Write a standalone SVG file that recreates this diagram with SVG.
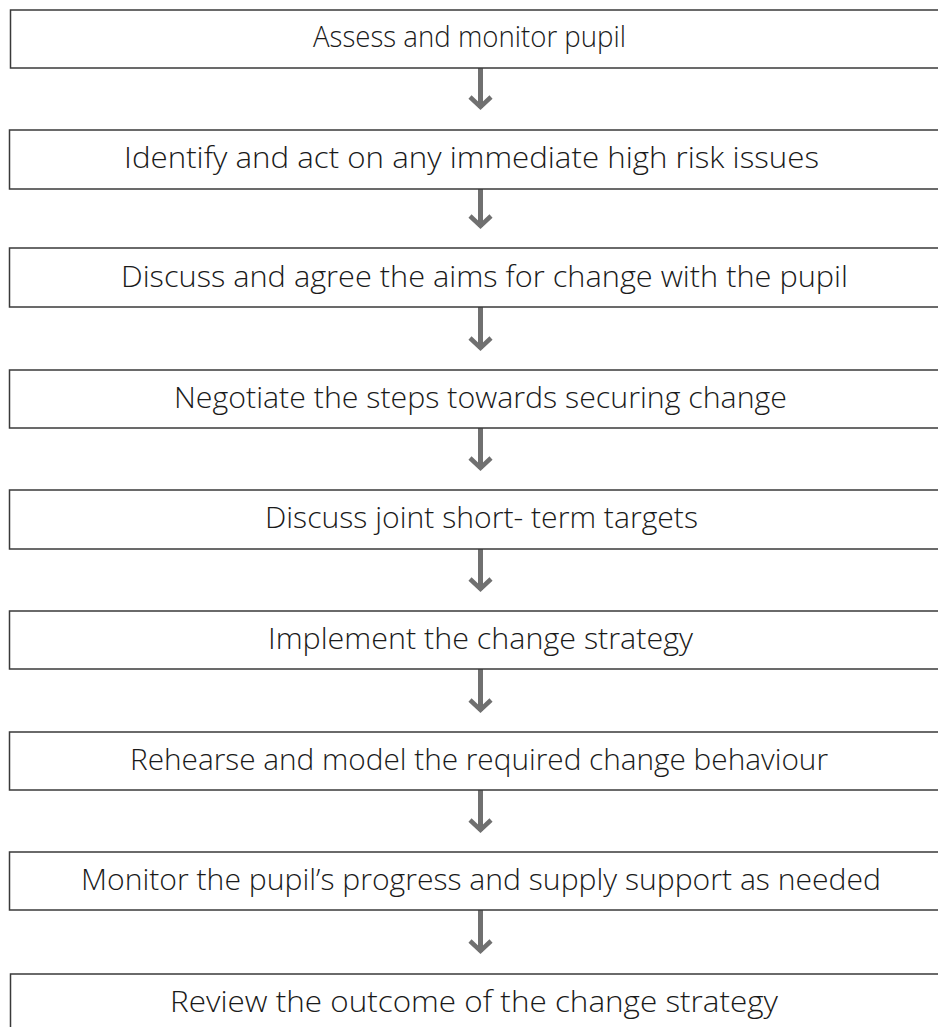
<svg xmlns="http://www.w3.org/2000/svg" width="938" height="1027" viewBox="0 0 938 1027">
<style>
.box{fill:#ffffff;stroke:#3a3a3a;stroke-width:1.5}
.lbl{font-family:"Open Sans","Noto Sans","Liberation Sans",sans-serif;font-size:30px;font-weight:300;fill:#1a1a1a}
.arrow{stroke:#707070;stroke-width:5;fill:none;marker-end:url(#head)}
</style>
<defs>
<marker id="head" markerUnits="userSpaceOnUse" viewBox="-14 -13 18 26" refX="0" refY="0" markerWidth="18" markerHeight="26" orient="auto">
<polyline points="-11,-10.5 -1,0 -11,10.5" fill="none" stroke="#707070" stroke-width="4.5" stroke-linejoin="miter"/>
</marker>
</defs>
<rect x="0" y="0" width="938" height="1027" fill="#ffffff"/>
<g id="connectors">
<line class="arrow" x1="480.5" y1="68" x2="480.5" y2="108"/>
<line class="arrow" x1="480.5" y1="189" x2="480.5" y2="227"/>
<line class="arrow" x1="480.5" y1="307" x2="480.5" y2="349"/>
<line class="arrow" x1="480.5" y1="428" x2="480.5" y2="469"/>
<line class="arrow" x1="480.5" y1="549" x2="480.5" y2="590"/>
<line class="arrow" x1="480.5" y1="669" x2="480.5" y2="711"/>
<line class="arrow" x1="480.5" y1="790" x2="480.5" y2="831"/>
<line class="arrow" x1="480.5" y1="910" x2="480.5" y2="952"/>
</g>
<g id="n1"><rect class="box" x="10.5" y="10" width="945" height="58"/><text class="lbl" x="313" y="47" textLength="313" lengthAdjust="spacingAndGlyphs">Assess and monitor pupil</text></g>
<g id="n2"><rect class="box" x="9.5" y="130" width="945" height="59"/><text class="lbl" x="124" y="168" textLength="695" lengthAdjust="spacingAndGlyphs">Identify and act on any immediate high risk issues</text></g>
<g id="n3"><rect class="box" x="9.5" y="248" width="945" height="59"/><text class="lbl" x="121" y="287" textLength="727" lengthAdjust="spacingAndGlyphs">Discuss and agree the aims for change with the pupil</text></g>
<g id="n4"><rect class="box" x="9.5" y="370" width="945" height="58"/><text class="lbl" x="174" y="408" textLength="613" lengthAdjust="spacingAndGlyphs">Negotiate the steps towards securing change</text></g>
<g id="n5"><rect class="box" x="9.5" y="490" width="945" height="59"/><text class="lbl" x="265" y="528" textLength="433" lengthAdjust="spacingAndGlyphs">Discuss joint short- term targets</text></g>
<g id="n6"><rect class="box" x="9.5" y="611" width="945" height="58"/><text class="lbl" x="268" y="649" textLength="425" lengthAdjust="spacingAndGlyphs">Implement the change strategy</text></g>
<g id="n7"><rect class="box" x="9.5" y="732" width="945" height="58"/><text class="lbl" x="130" y="770" textLength="698" lengthAdjust="spacingAndGlyphs">Rehearse and model the required change behaviour</text></g>
<g id="n8"><rect class="box" x="9.5" y="852" width="945" height="58"/><text class="lbl" x="81" y="890" textLength="800" lengthAdjust="spacingAndGlyphs">Monitor the pupil’s progress and supply support as needed</text></g>
<g id="n9"><rect class="box" x="10.5" y="974" width="945" height="60"/><text class="lbl" x="170" y="1012" textLength="608" lengthAdjust="spacingAndGlyphs">Review the outcome of the change strategy</text></g>
</svg>
